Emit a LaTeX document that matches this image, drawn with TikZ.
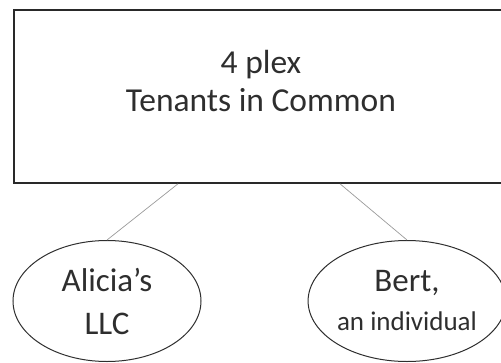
\documentclass[tikz,border=0pt]{standalone}
\usepackage{fontspec}
\setmainfont{Carlito}
\usetikzlibrary{shapes.geometric}
\definecolor{ink}{HTML}{2E2E2E}
\definecolor{edgegray}{HTML}{9A9A9A}
\begin{document}
\begin{tikzpicture}[x=1pt,y=-1pt,
  frame/.style={draw=ink!90!black, line width=1.6pt, rectangle, inner sep=0pt},
  owner/.style={draw=ink, line width=1pt, ellipse, inner sep=0pt,
    minimum width=188pt, minimum height=121pt, text=ink, align=center,
    font=\fontsize{33}{41}\selectfont},
  link/.style={draw=edgegray, line width=0.7pt}]
  \useasboundingbox (0,0) rectangle (501,362);
  % property box (runs off the right edge)
  \node[frame, minimum width=490pt, minimum height=173pt] (box) at (259,96.5) {};
  \node[text=ink, align=center, font=\fontsize{33.5}{38}\selectfont] (title) at (261,81)
    {4 plex\\Tenants in Common};
  % owners
  \node[owner] (alicia) at (107,301) {Alicia’s\\[2pt]LLC};
  \node[owner] (bert) at (407,301) {Bert,\\[-2pt]{\fontsize{27}{31}\selectfont an individual}};
  % ownership lines
  \draw[link] ([xshift=-81pt]box.south) -- (alicia.north);
  \draw[link] ([xshift=81pt]box.south) -- (bert.north);
\end{tikzpicture}
\end{document}
